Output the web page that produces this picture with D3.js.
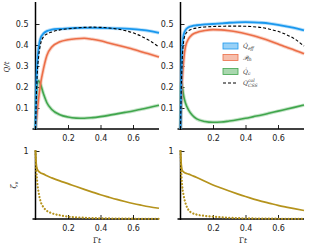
<!DOCTYPE html>
<html><head><meta charset="utf-8">
<script src="https://cdn.jsdelivr.net/npm/d3@7"></script>
<style>body{margin:0;background:#fff}svg{display:block}</style>
</head><body><svg id="c" width="315" height="250"></svg>
<script>
const tVals = [0,0.005,0.01,0.02,0.03,0.05,0.07,0.1,0.15,0.2,0.25,0.3,0.35,0.4,0.45,0.5,0.55,0.6,0.65,0.7,0.76];
// left panel
const qeffL = [0,0.2,0.3,0.39,0.43,0.455,0.466,0.473,0.477,0.479,0.481,0.482,0.482,0.481,0.48,0.479,0.478,0.476,0.472,0.467,0.458];
const qcssL = [0,0.15,0.25,0.35,0.4,0.44,0.452,0.462,0.472,0.477,0.481,0.484,0.485,0.484,0.481,0.476,0.469,0.458,0.442,0.422,0.39];
const pthL  = [0,0.04,0.08,0.15,0.21,0.29,0.35,0.39,0.415,0.425,0.43,0.432,0.427,0.42,0.41,0.40,0.39,0.38,0.368,0.357,0.343];
const qcL   = [0,0.15,0.21,0.23,0.215,0.165,0.125,0.093,0.068,0.057,0.052,0.051,0.054,0.059,0.065,0.072,0.079,0.086,0.094,0.102,0.113];
// right panel
const qeffR = [0,0.25,0.38,0.45,0.47,0.485,0.49,0.494,0.498,0.5,0.503,0.506,0.508,0.509,0.508,0.506,0.502,0.496,0.489,0.481,0.47];
const qcssR = [0,0.2,0.32,0.42,0.45,0.468,0.475,0.481,0.486,0.488,0.489,0.49,0.49,0.489,0.487,0.483,0.475,0.465,0.45,0.43,0.395];
const pthR  = [0,0.12,0.22,0.33,0.39,0.43,0.448,0.46,0.469,0.473,0.472,0.468,0.462,0.454,0.444,0.432,0.419,0.405,0.39,0.376,0.358];
const qcR   = [0,0.225,0.205,0.155,0.125,0.09,0.068,0.048,0.036,0.032,0.033,0.038,0.044,0.051,0.059,0.067,0.076,0.085,0.094,0.103,0.114];
// bottom panels
const zSolidL = [1,0.8,0.74,0.7,0.68,0.66,0.635,0.605,0.56,0.52,0.477,0.436,0.396,0.357,0.322,0.288,0.257,0.228,0.203,0.18,0.158];
const zDotL   = [1,0.72,0.56,0.38,0.27,0.17,0.12,0.085,0.055,0.035,0.025,0.018,0.013,0.01,0.008,0.006,0.005,0.004,0.003,0.003,0.002];
const zSolidR = [1,0.8,0.72,0.69,0.675,0.66,0.64,0.61,0.555,0.5,0.455,0.412,0.37,0.33,0.293,0.26,0.23,0.2,0.175,0.152,0.125];
const zDotR   = [1,0.68,0.5,0.34,0.24,0.13,0.09,0.065,0.045,0.034,0.025,0.018,0.013,0.01,0.008,0.006,0.005,0.004,0.003,0.003,0.002];
const xTicks = [0.2,0.4,0.6];
const yTicksTop = [0.1,0.2,0.3,0.4,0.5];
const yTicksBot = [1];

const C = {blue:"#1a98ee", orange:"#ec6e47", green:"#40a64c", gold:"#b5931c"};
const svg = d3.select("#c");
const fontTick = "DejaVu Sans, sans-serif";

function panel(x0, top) {
  const xs = d3.scaleLinear().domain([0,0.76]).range([x0, x0+123.5]);
  const ys = top ? d3.scaleLinear().domain([0,0.6]).range([129,3])
                 : d3.scaleLinear().domain([0,1]).range([219,151]);
  const g = svg.append("g");
  const xa = g.append("g").attr("transform",`translate(0,${ys.range()[0]})`)
    .call(d3.axisBottom(xs).tickValues(xTicks).tickSizeInner(-4).tickSizeOuter(0).tickPadding(6).tickFormat(d3.format(".1f")));
  xa.select(".domain").remove();
  xa.selectAll("text").attr("font-family",fontTick).attr("font-size","8px").attr("fill","#222");
  xa.selectAll("line").attr("stroke","#222");
  g.append("line").attr("x1",x0-3).attr("x2",xs.range()[1]).attr("y1",ys.range()[0]).attr("y2",ys.range()[0]).attr("stroke","#000").attr("stroke-width",1.5);
  const ya = g.append("g").attr("transform",`translate(${x0},0)`)
    .call(d3.axisLeft(ys).tickValues(top?yTicksTop:yTicksBot).tickSizeInner(-4).tickSizeOuter(0).tickPadding(7)
      .tickFormat(top?d3.format(".1f"):d3.format("d")));
  ya.select(".domain").remove();
  ya.selectAll("text").attr("font-family",fontTick).attr("font-size","8px").attr("fill","#222");
  ya.selectAll("line").attr("stroke","#222");
  g.append("line").attr("x1",x0).attr("x2",x0).attr("y1",ys.range()[1]-1).attr("y2",ys.range()[0]+1).attr("stroke","#000").attr("stroke-width",1.5);
  return {g, xs, ys};
}

function curve(p, vals, color, opts={}) {
  const line = d3.line().x((d,i)=>p.xs(tVals[i])).y(d=>p.ys(d)).curve(d3.curveMonotoneX);
  if (opts.band) {
    p.g.append("path").attr("d",line(vals)).attr("fill","none").attr("stroke",color)
      .attr("stroke-opacity",0.3).attr("stroke-width",3.5).attr("stroke-linejoin","round");
  }
  const path = p.g.append("path").attr("d",line(vals)).attr("fill","none").attr("stroke",color)
    .attr("stroke-width",opts.w||1.6).attr("stroke-linejoin","round");
  if (opts.dash) path.attr("stroke-dasharray",opts.dash);
  if (opts.cap) path.attr("stroke-linecap",opts.cap);
}

const pTL = panel(35.5, true), pTR = panel(180.5, true);
const pBL = panel(35.5, false), pBR = panel(180.5, false);

[[pTL,qeffL,pthL,qcL,qcssL],[pTR,qeffR,pthR,qcR,qcssR]].forEach(([p,qe,pt,qc,qs])=>{
  curve(p,qc,C.green,{band:true});
  curve(p,pt,C.orange,{band:true});
  curve(p,qe,C.blue,{band:true,w:1.8});
  curve(p,qs,"#000",{dash:"3,2",w:1.1});
});
[[pBL,zSolidL,zDotL],[pBR,zSolidR,zDotR]].forEach(([p,s,d])=>{
  curve(p,s,C.gold,{w:1.7});
  curve(p,d,C.gold,{w:2.2,dash:"0.1,3.2",cap:"round"});
});

svg.append("text").attr("transform","translate(9,67) rotate(-90)").attr("text-anchor","middle")
  .attr("font-family","DejaVu Serif, serif").attr("font-style","italic").attr("font-size","7px").attr("fill","#222").text("Q/t");
svg.append("text").attr("transform","translate(16,185) rotate(-90)").attr("text-anchor","middle")
  .attr("font-family","DejaVu Serif, serif").attr("font-style","italic").attr("font-size","7.5px").attr("fill","#222")
  .call(t=>{t.append("tspan").text("ζ");t.append("tspan").attr("font-size","5px").attr("dy",2).text("v");});
[97,243].forEach(x=>{
  svg.append("text").attr("x",x).attr("y",243).attr("text-anchor","middle").attr("font-family","DejaVu Serif, serif")
    .attr("font-size","7.5px").attr("fill","#222")
    .call(t=>{t.append("tspan").attr("font-style","normal").text("Γ");t.append("tspan").attr("font-style","italic").text("t");});
});

const leg = svg.append("g").attr("font-family","DejaVu Serif, serif").attr("font-size","6px").attr("fill","#333");
const legItems = [
  {c:C.blue, main:"Q̇", sub:"eff", y:46},
  {c:C.orange, main:"𝒫", sub:"th", y:57.5},
  {c:C.green, main:"Q̇", sub:"c", y:71.5},
  {c:"#000", main:"Q", sub:"CSS", sup:"col", y:83, dash:true}
];
legItems.forEach(it=>{
  if (it.dash) {
    leg.append("line").attr("x1",223).attr("x2",238).attr("y1",it.y).attr("y2",it.y).attr("stroke","#000").attr("stroke-width",1).attr("stroke-dasharray","3,2");
  } else {
    leg.append("rect").attr("x",223).attr("y",it.y-3).attr("width",15).attr("height",6)
      .attr("fill",it.c).attr("fill-opacity",0.45).attr("stroke",it.c).attr("stroke-width",0.8);
  }
  const t = leg.append("text").attr("x",243).attr("y",it.y+2).attr("font-style","italic");
  t.append("tspan").text(it.main);
  if (it.sup) {
    t.append("tspan").attr("font-size","4.5px").attr("dy",-3).text(it.sup);
    t.append("tspan").attr("font-size","4.5px").attr("dy",5).attr("dx",-6.5).text(it.sub);
  } else {
    t.append("tspan").attr("font-size","4.5px").attr("dy",1.5).text(it.sub);
  }
});
</script></body></html>
